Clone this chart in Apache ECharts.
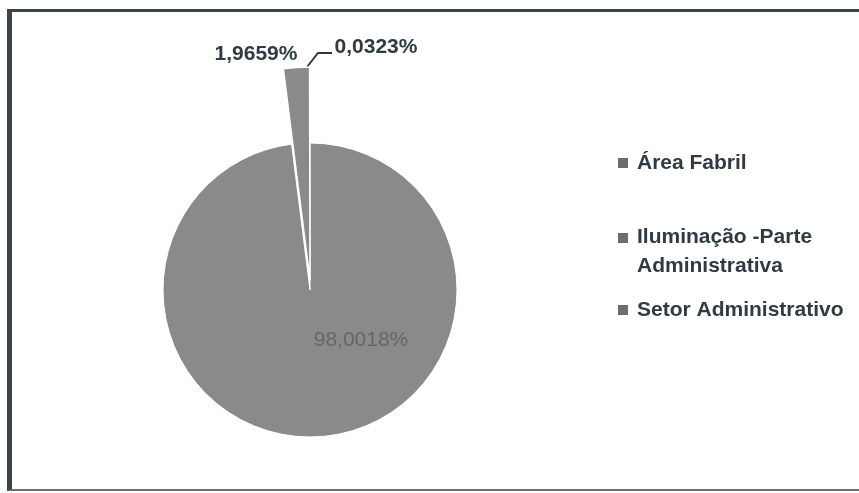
<!DOCTYPE html>
<html>
<head>
<meta charset="utf-8">
<script src="https://cdn.jsdelivr.net/npm/echarts@6.0.0/dist/echarts.min.js"></script>
<style>
  html, body { margin: 0; padding: 0; background: #ffffff; overflow: hidden; }
  #frame { position: absolute; left: 7px; top: 9px; width: 860px; height: 477px;
           border-left: 5px solid #3c444b; border-top: 3px solid #3c444b; border-bottom: 2px solid #6b7176; }
  #chart { position: absolute; left: 0; top: 0; width: 859px; height: 493px; }
</style>
</head>
<body>
<div id="frame"></div>
<div id="chart"></div>
<script>
// ---- data ----
const categories = ['Área Fabril', 'Iluminação -Parte Administrativa', 'Setor Administrativo'];
const percentages = [98.0018, 1.9659, 0.0323];
const legendText = ['Área Fabril', 'Iluminação -Parte\nAdministrativa', 'Setor Administrativo'];

// ---- styles ----
const sliceGrey = '#8a8a8a';
const iconGrey = '#6c6c6c';
const darkText = '#2f3a42';
const FONT = '"Liberation Sans", Arial, sans-serif';
const hidden = { color: 'rgba(0,0,0,0)', borderWidth: 0 };

function fmtPct(v) { return v.toFixed(4).replace('.', ',') + '%'; }
function legendFmt(name) { const i = categories.indexOf(name); return i >= 0 ? legendText[i] : name; }

const chart = echarts.init(document.getElementById('chart'), null, { renderer: 'canvas' });

function makeLegend(idx, top, iconPath, itemHeight) {
  return {
    show: true, orient: 'vertical', left: 618, top: top, padding: 0,
    itemWidth: 14, itemHeight: itemHeight, selectedMode: false,
    icon: iconPath,
    itemStyle: { color: iconGrey, borderWidth: 0 },
    data: [{ name: categories[idx], itemStyle: { color: iconGrey, borderWidth: 0 } }],
    formatter: legendFmt,
    textStyle: { fontFamily: FONT, fontSize: 21, fontWeight: 'bold', color: darkText, lineHeight: 29 }
  };
}

const option = {
  animation: false,
  backgroundColor: 'transparent',
  legend: [
    makeLegend(0, 148.5, 'path://M0,0h10v10h-10zM14,0h0.001', 10),
    makeLegend(1, 222.5, 'path://M0,0h10v10h-10zM14,37h0.001', 37),
    makeLegend(2, 295.5, 'path://M0,0h10v10h-10zM14,0h0.001', 10)
  ],
  series: [
    {
      type: 'pie', name: 'main', center: [310, 290], radius: 147,
      startAngle: 90, clockwise: true, silent: true, avoidLabelOverlap: false,
      emphasis: { disabled: true },
      itemStyle: { borderColor: '#ffffff', borderWidth: 1 },
      label: { position: 'inside', fontFamily: FONT, fontSize: 21, color: '#666666',
               formatter: p => fmtPct(p.value) },
      labelLine: { show: false },
      labelLayout: p => p.dataIndex === 0 ? { x: 361, y: 340, align: 'center', verticalAlign: 'middle' } : {},
      data: categories.map((c, i) => ({
        name: c, value: percentages[i],
        itemStyle: i === 0 ? { color: sliceGrey } : hidden,
        label: { show: i === 0 }
      }))
    },
    {
      type: 'pie', name: 'wedge', center: [310, 280], radius: 213,
      startAngle: 90, clockwise: true, silent: true, avoidLabelOverlap: false,
      emphasis: { disabled: true },
      itemStyle: { borderColor: '#ffffff', borderWidth: 1.5 },
      label: { position: 'outside', fontFamily: FONT, fontSize: 21, fontWeight: 'bold', color: darkText,
               formatter: p => fmtPct(p.value) },
      labelLine: { show: true, lineStyle: { color: darkText, width: 2 } },
      labelLayout: p => {
        if (p.dataIndex === 1) return { x: 256, y: 54, align: 'center', verticalAlign: 'middle' };
        if (p.dataIndex === 2) return { x: 376, y: 47, align: 'center', verticalAlign: 'middle',
                                        labelLinePoints: [[307, 67], [318, 53], [332, 53]] };
        return {};
      },
      data: categories.map((c, i) => ({
        name: c, value: percentages[i],
        itemStyle: i === 1 ? { color: sliceGrey } : hidden,
        label: { show: i !== 0 },
        labelLine: { show: i === 2 }
      }))
    }
  ]
};
chart.setOption(option);
</script>
</body>
</html>
